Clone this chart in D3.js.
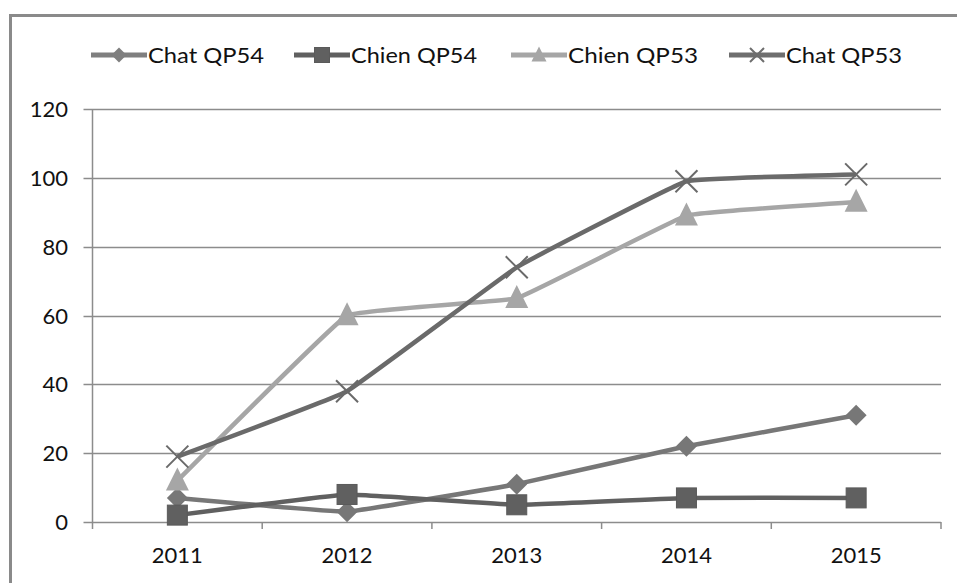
<!DOCTYPE html>
<html><head><meta charset="utf-8">
<script src="https://cdnjs.cloudflare.com/ajax/libs/d3/7.8.5/d3.min.js"></script>
<style>body{margin:0;background:#fff}svg{display:block}</style>
</head><body>
<script>
const years = ["2011","2012","2013","2014","2015"];
const seriesNames = ["Chat QP54","Chien QP54","Chien QP53","Chat QP53"];
const chatQP54 = [7, 3, 11, 22, 31];
const chienQP54 = [2, 8, 5, 7, 7];
const chienQP53 = [12, 60, 65, 89, 93];
const chatQP53 = [19, 38, 74, 99, 101];
const yTicks = [0, 20, 40, 60, 80, 100, 120];

const W = 957, H = 583;
const svg = d3.select("body").append("svg").attr("width", W).attr("height", H);

// outer frame (left & top visible)
svg.append("path").attr("d", `M10.5,${H} V15.5 H${W}`).attr("fill","none")
  .attr("stroke","#8a8a8a").attr("stroke-width",3);

const pL = 92.5, pR = 941, pT = 109, pB = 522;
const x = d3.scaleBand().domain(years).range([pL, pR]);
const y = d3.scaleLinear().domain([0, 120]).range([pB, pT]);

// gridlines
svg.append("g").selectAll("line").data(yTicks).join("line")
  .attr("x1", pL - 9).attr("x2", pR)
  .attr("y1", d => Math.round(y(d)) + 0.5).attr("y2", d => Math.round(y(d)) + 0.5)
  .attr("stroke", "#8c8c8c").attr("stroke-width", 1.5);

// y axis line
svg.append("line").attr("x1", pL).attr("x2", pL).attr("y1", pT).attr("y2", pB + 7)
  .attr("stroke", "#8c8c8c").attr("stroke-width", 1.5);

// x category boundary ticks
const bounds = years.map(d => x(d)).concat([pR]);
svg.append("g").selectAll("line").data(bounds.slice(1)).join("line")
  .attr("x1", d => d).attr("x2", d => d).attr("y1", pB).attr("y2", pB + 7)
  .attr("stroke", "#8c8c8c").attr("stroke-width", 1.5);

// y labels
svg.append("g").selectAll("text").data(yTicks).join("text")
  .attr("x", 68).attr("y", d => y(d) + 8)
  .attr("text-anchor", "end").attr("font-family", "Lato, 'Open Sans', sans-serif")
  .attr("font-size", 22).attr("fill", "#111").text(d => d);

// x labels
svg.append("g").selectAll("text").data(years).join("text")
  .attr("x", d => x(d) + x.bandwidth() / 2).attr("y", 563)
  .attr("text-anchor", "middle").attr("font-family", "Lato, 'Open Sans', sans-serif")
  .attr("font-size", 22).attr("fill", "#111").text(d => d);

const series = [
  {name: seriesNames[0], values: chatQP54, color: "#777777", lcolor: "#7f7f7f", marker: "diamond"},
  {name: seriesNames[1], values: chienQP54, color: "#606060", lcolor: "#606060", marker: "square"},
  {name: seriesNames[2], values: chienQP53, color: "#a6a6a6", lcolor: "#a6a6a6", marker: "triangle"},
  {name: seriesNames[3], values: chatQP53, color: "#6a6a6a", lcolor: "#6e6e6e", marker: "x"}
];

const cx = d => x(d) + x.bandwidth() / 2;
const line = d3.line().curve(d3.curveCardinal.tension(0.8));

function drawMarker(g, type, px, py, color, s) {
  if (type === "diamond") {
    g.append("path").attr("d", `M${px},${py - s} L${px + s},${py} L${px},${py + s} L${px - s},${py} Z`).attr("fill", color);
  } else if (type === "square") {
    g.append("rect").attr("x", px - s).attr("y", py - s).attr("width", 2 * s).attr("height", 2 * s)
      .attr("fill", color).attr("stroke", "#5a5a5a").attr("stroke-width", 1);
  } else if (type === "triangle") {
    g.append("path").attr("d", `M${px},${py - s * 1.15} L${px + s},${py + s * 0.85} L${px - s},${py + s * 0.85} Z`).attr("fill", color);
  } else {
    g.append("path").attr("d", `M${px - s},${py - s} L${px + s},${py + s} M${px - s},${py + s} L${px + s},${py - s}`)
      .attr("stroke", color).attr("stroke-width", 2).attr("fill", "none");
  }
}

const sizes = {diamond: 10.5, square: 10, triangle: 11.5, x: 11};

series.forEach(s => {
  const pts = years.map((yr, i) => [cx(yr), y(s.values[i])]);
  svg.append("path").attr("d", line(pts)).attr("fill", "none")
    .attr("stroke", s.color).attr("stroke-width", 4.5).attr("stroke-linejoin", "round");
  const g = svg.append("g");
  pts.forEach(p => drawMarker(g, s.marker, p[0], p[1], s.color, sizes[s.marker]));
});

// legend
const legendX = [91, 294, 511, 729];
const textW = [116, 126, 130, 116];
series.forEach((s, i) => {
  const g = svg.append("g");
  const lx = legendX[i], ly = 55;
  g.append("line").attr("x1", lx).attr("x2", lx + 56).attr("y1", ly).attr("y2", ly)
    .attr("stroke", s.lcolor).attr("stroke-width", 5);
  drawMarker(g, s.marker, lx + 28, ly, s.lcolor, s.marker === "x" ? 7 : 7.5);
  g.append("text").attr("x", lx + 57).attr("y", ly + 8)
    .attr("font-family", "Lato, 'Open Sans', sans-serif").attr("font-size", 21)
    .attr("textLength", textW[i]).attr("lengthAdjust", "spacingAndGlyphs")
    .attr("fill", "#111").text(s.name);
});
</script>
</body></html>
